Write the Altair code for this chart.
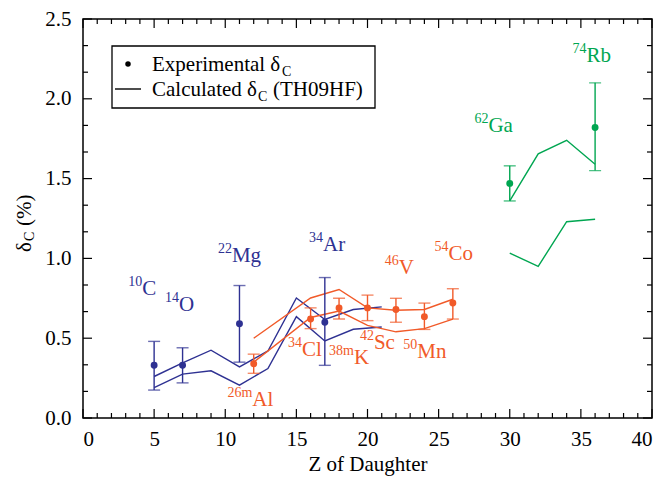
import altair as alt
import pandas as pd

FONT = "Liberation Serif, Times New Roman, Times, DejaVu Serif, serif"
BLUE = "#2e3192"
RED = "#f15a29"
GREEN = "#00a651"

W, H = 569, 399

# ---------------- data ----------------
# experimental delta_C (%)
exp_group = ["blue"] * 4 + ["red"] * 7 + ["green"] * 2
exp_z = [5, 7, 11, 17, 12, 16, 18, 20, 22, 24, 26, 30, 36]
exp_val = [0.33, 0.33, 0.59, 0.60, 0.34, 0.62, 0.69, 0.69, 0.68, 0.635, 0.72, 1.47, 1.82]
exp_lo = [0.175, 0.22, 0.35, 0.33, 0.28, 0.56, 0.62, 0.61, 0.60, 0.555, 0.62, 1.36, 1.55]
exp_hi = [0.48, 0.44, 0.83, 0.88, 0.40, 0.69, 0.75, 0.77, 0.75, 0.72, 0.81, 1.58, 2.10]

# calculated delta_C (TH09HF) bands
blue_z = [5, 7, 9, 11, 13, 15, 17, 19, 21]
blue_upper = [0.26, 0.345, 0.425, 0.32, 0.42, 0.752, 0.617, 0.68, 0.696]
blue_lower = [0.19, 0.275, 0.296, 0.206, 0.31, 0.635, 0.483, 0.556, 0.57]
red_z = [12, 16, 18, 20, 22, 24, 26]
red_upper = [0.50, 0.752, 0.805, 0.69, 0.675, 0.68, 0.744]
red_lower = [0.35, 0.63, 0.67, 0.58, 0.54, 0.56, 0.62]
green_z = [30, 32, 34, 36]
green_upper = [1.36, 1.655, 1.74, 1.59]
green_lower = [1.033, 0.95, 1.23, 1.245]

# nucleus labels
lab_mass = ["10", "14", "22", "34", "26m", "34", "38m", "42", "50", "46", "54", "62", "74"]
lab_sym = ["C", "O", "Mg", "Ar", "Al", "Cl", "K", "Sc", "Mn", "V", "Co", "Ga", "Rb"]
lab_z = [4.17, 6.75, 10.47, 16.87, 11.9, 15.4, 19.05, 20.45, 23.5, 22.2, 25.7, 28.5, 35.4]
lab_val = [0.77, 0.67, 0.98, 1.045, 0.075, 0.39, 0.34, 0.435, 0.375, 0.90, 0.99, 1.79, 2.23]
lab_group = ["blue"] * 4 + ["red"] * 7 + ["green"] * 2

# axis ticks
x_major = [0, 5, 10, 15, 20, 25, 30, 35, 40]
x_minor = [i for i in range(41) if i % 5 != 0]
y_major = [0.0, 0.5, 1.0, 1.5, 2.0, 2.5]
y_minor = [k / 6 for k in range(16) if k % 3 != 0]

# ---------------- tables ----------------
exp_df = pd.DataFrame({"g": exp_group, "Z": exp_z, "d": exp_val, "lo": exp_lo, "hi": exp_hi})
rows = []
for g, zs, ser in [("blue", blue_z, [("bu", blue_upper), ("bl", blue_lower)]),
                   ("red", red_z, [("ru", red_upper), ("rl", red_lower)]),
                   ("green", green_z, [("gu", green_upper), ("gl", green_lower)])]:
    for name, vals in ser:
        for z, v in zip(zs, vals):
            rows.append({"g": g, "s": name, "Z": z, "d": v})
calc_df = pd.DataFrame(rows)
lab_df = pd.DataFrame({"g": lab_group, "Z": lab_z, "d": lab_val, "m": lab_mass, "sym": lab_sym})

xs = alt.Scale(domain=[0, 40], nice=False, zero=False)
ys = alt.Scale(domain=[0, 2.5], nice=False, zero=False)
xaxis = alt.Axis(values=x_major, format="d", ticks=False, domain=False, grid=False,
                 labelFont=FONT, labelFontSize=21, labelColor="black", labelPadding=10,
                 title="Z of Daughter", titleFont=FONT, titleFontSize=21,
                 titleFontWeight="normal", titleColor="black", titlePadding=4)
yaxis = alt.Axis(values=y_major, format=".1f", ticks=False, domain=False, grid=False,
                 labelFont=FONT, labelFontSize=21, labelColor="black", labelPadding=12,
                 title=None)
cscale = alt.Scale(domain=["blue", "red", "green"], range=[BLUE, RED, GREEN])


def X(f):
    return alt.X(f"{f}:Q", scale=xs, axis=xaxis)


def Y(f):
    return alt.Y(f"{f}:Q", scale=ys, axis=yaxis)


col = alt.Color("g:N", scale=cscale, legend=None)

lines = alt.Chart(calc_df).mark_line(strokeWidth=1.4).encode(
    x=X("Z"), y=Y("d"), detail="s:N", color=col)
err = alt.Chart(exp_df).mark_rule(strokeWidth=1.4).encode(
    x=X("Z"), y=Y("lo"), y2="hi:Q", color=col)
cap_lo = alt.Chart(exp_df).mark_tick(orient="horizontal", size=12, thickness=1.4).encode(
    x=X("Z"), y=Y("lo"), color=col)
cap_hi = alt.Chart(exp_df).mark_tick(orient="horizontal", size=12, thickness=1.4).encode(
    x=X("Z"), y=Y("hi"), color=col)
pts = alt.Chart(exp_df).mark_circle(size=48, opacity=1).encode(
    x=X("Z"), y=Y("d"), color=col)
sym = alt.Chart(lab_df).mark_text(align="left", baseline="alphabetic", font=FONT, fontSize=21).encode(
    x=X("Z"), y=Y("d"), text="sym:N", color=col)
sup = alt.Chart(lab_df).mark_text(align="right", baseline="alphabetic", font=FONT, fontSize=14, dy=-9).encode(
    x=X("Z"), y=Y("d"), text="m:N", color=col)

# ticks (inward, all four sides)
xM = pd.DataFrame({"t": x_major})
xm = pd.DataFrame({"t": x_minor})
yM = pd.DataFrame({"t": y_major})
ym = pd.DataFrame({"t": y_minor})
tk = dict(color="black", strokeWidth=1.2)
ticks = [
    alt.Chart(xM).mark_rule(**tk).encode(x=X("t"), y=alt.value(H), y2=alt.value(H - 9)),
    alt.Chart(xM).mark_rule(**tk).encode(x=X("t"), y=alt.value(0), y2=alt.value(9)),
    alt.Chart(xm).mark_rule(**tk).encode(x=X("t"), y=alt.value(H), y2=alt.value(H - 5)),
    alt.Chart(xm).mark_rule(**tk).encode(x=X("t"), y=alt.value(0), y2=alt.value(5)),
    alt.Chart(yM).mark_rule(**tk).encode(y=Y("t"), x=alt.value(0), x2=alt.value(9)),
    alt.Chart(yM).mark_rule(**tk).encode(y=Y("t"), x=alt.value(W), x2=alt.value(W - 9)),
    alt.Chart(ym).mark_rule(**tk).encode(y=Y("t"), x=alt.value(0), x2=alt.value(5)),
    alt.Chart(ym).mark_rule(**tk).encode(y=Y("t"), x=alt.value(W), x2=alt.value(W - 5)),
]

one = alt.Data(values=[{}])
# legend
leg = [
    alt.Chart(one).mark_rect(fillOpacity=0, stroke="black", strokeWidth=1.3).encode(
        x=alt.value(29), x2=alt.value(292), y=alt.value(27), y2=alt.value(89)),
    alt.Chart(one).mark_circle(size=30, color="black", opacity=1).encode(
        x=alt.value(45), y=alt.value(45)),
    alt.Chart(one).mark_rule(color="black", strokeWidth=1.4).encode(
        x=alt.value(32), x2=alt.value(58), y=alt.value(70)),
    alt.Chart(one).mark_text(text="Experimental \u03b4", align="left", baseline="alphabetic",
                             font=FONT, fontSize=21, color="black").encode(x=alt.value(69), y=alt.value(52)),
    alt.Chart(one).mark_text(text="C", align="left", baseline="alphabetic",
                             font=FONT, fontSize=14, color="black").encode(x=alt.value(199), y=alt.value(57)),
    alt.Chart(one).mark_text(text="Calculated \u03b4", align="left", baseline="alphabetic",
                             font=FONT, fontSize=21, color="black").encode(x=alt.value(69), y=alt.value(77)),
    alt.Chart(one).mark_text(text="C", align="left", baseline="alphabetic",
                             font=FONT, fontSize=14, color="black").encode(x=alt.value(175), y=alt.value(82)),
    alt.Chart(one).mark_text(text="(TH09HF)", align="left", baseline="alphabetic",
                             font=FONT, fontSize=21, color="black").encode(x=alt.value(190), y=alt.value(77)),
]
# y-axis title  delta_C (%)
ytitle = [
    alt.Chart(one).mark_text(text="\u03b4", angle=270, align="left", baseline="middle",
                             font=FONT, fontSize=21, color="black").encode(x=alt.value(-58), y=alt.value(233)),
    alt.Chart(one).mark_text(text="C", angle=270, align="left", baseline="middle",
                             font=FONT, fontSize=14, color="black").encode(x=alt.value(-53), y=alt.value(222)),
    alt.Chart(one).mark_text(text="(%)", angle=270, align="left", baseline="middle",
                             font=FONT, fontSize=21, color="black").encode(x=alt.value(-58), y=alt.value(207)),
]

chart = alt.layer(lines, err, cap_lo, cap_hi, pts, sym, sup, *ticks, *leg, *ytitle).properties(
    width=W, height=H,
    autosize=alt.AutoSizeParams(type="none"),
    padding={"left": 75, "top": 11, "right": 7, "bottom": 60},
    background="white",
).configure_view(stroke="black", strokeWidth=1.5)

chart.save("out.html", embed_options={"renderer": "svg", "actions": False})
